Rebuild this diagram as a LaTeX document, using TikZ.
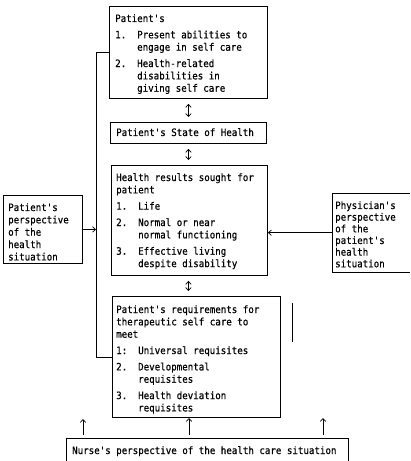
\documentclass[tikz,border=0pt]{standalone}
\usepackage{fontspec}
\setmainfont{DejaVu Sans Mono}[FakeStretch=0.9, FakeBold=0.6, Ligatures=TeXOff]
\usetikzlibrary{arrows.meta,calc}
\newcommand\numb[1]{\makebox[22bp][l]{#1}}
\newcommand\hang{\hspace*{22bp}}
\begin{document}
\begin{tikzpicture}[x=1bp,y=-1bp,
  font=\fontsize{10.2}{12.4}\selectfont,
  box/.style={draw, line width=0.9pt, inner sep=0, anchor=north west},
  openbox/.style={inner sep=0, anchor=north west},
  txt/.style={anchor=base west, inner sep=0},
  conn/.style={line width=0.7pt},
  arr/.style={conn, -{Straight Barb[length=3pt,width=5.5pt]}},
  darr/.style={conn, {Straight Barb[length=3pt,width=5.5pt]}-{Straight Barb[length=3pt,width=5.5pt]}, shorten >=5pt, shorten <=5pt}]
\useasboundingbox (0,0) rectangle (410,461);

% boxes
\node[box, minimum width=158bp, minimum height=92bp] (b1) at (109,6) {};
\node[box, minimum width=156bp, minimum height=21bp] (b2) at (110,122) {};
\node[box, minimum width=156bp, minimum height=110bp] (b3) at (111,165) {};
\node[box, minimum width=168bp, minimum height=121bp] (b4) at (112,296) {};
\node[box, minimum width=79bp, minimum height=68bp] (lb) at (3,195) {};
\node[openbox, minimum width=78bp, minimum height=79bp] (rb) at (332,193) {};
\draw[line width=0.9pt] (rb.north east) -- (rb.north west) -- (rb.south west) -- (rb.south east);
\node[openbox, minimum width=282bp, minimum height=23bp] (nb) at (66,438) {};
\draw[line width=0.9pt] (nb.south west) -- (nb.north west) -- (nb.north east) -- (nb.south east);

% texts
\node[txt] (t1) at (115,22) {\begin{tabular}[t]{@{}l@{}}
Patient's\\[4pt]
\numb{1.}Present abilities to\\
\hang engage in self care\\[4pt]
\numb{2.}Health-related\\
\hang disabilities in\\
\hang giving self care
\end{tabular}};
\node[txt] (t2) at (116,136) {Patient's State of Health};
\node[txt] (t3) at (116,181) {\begin{tabular}[t]{@{}l@{}}
Health results sought for\\
patient\\[4pt]
\numb{1.}Life\\[4pt]
\numb{2.}Normal or near\\
\hang normal functioning\\[4pt]
\numb{3.}Effective living\\
\hang despite disability
\end{tabular}};
\node[txt] (t4) at (116,313) {\begin{tabular}[t]{@{}l@{}}
Patient's requirements for\\
therapeutic self care to\\
meet\\[4pt]
\numb{1:}Universal requisites\\[4pt]
\numb{2.}Developmental\\
\hang requisites\\[4pt]
\numb{3.}Health deviation\\
\hang requisites
\end{tabular}};
\node[txt] (tl) at (8,211) {\begin{tabular}[t]{@{}l@{}}
Patient's\\
perspective\\
of the\\
health\\
situation
\end{tabular}};
\node[txt] (tr) at (335,209) {\fontsize{10.2}{11.7}\selectfont\begin{tabular}[t]{@{}l@{}}
Physician's\\
perspective\\
of the\\
patient's\\
health\\
situation
\end{tabular}};
\node[txt] (tn) at (72,454) {Nurse's perspective of the health care situation};

% connectors
\coordinate (bk) at (96,0);
\draw[darr] (b1.south) -- (b1.south |- b2.north);
\draw[darr] (b2.south) -- (b2.south |- b3.north);
\draw[darr] (b3.south -| b2.south) -- (b4.north -| b2.south);
\draw[conn] (b1.west) -- (b1.west -| bk) -- (b4.west -| bk) -- (b4.west);
\draw[arr] (lb.east) -- (lb.east -| bk);
\draw[arr] (rb.west) -- (rb.west -| b3.east);

\coordinate (a1) at (83,419);
\coordinate (a2) at (189,418);
\coordinate (a3) at (323,418);
\draw[arr, shorten <=3pt] (nb.north -| a1) -- (a1);
\draw[arr, shorten <=3pt] (nb.north -| a2) -- (a2);
\draw[arr, shorten <=3pt] (nb.north -| a3) -- (a3);

\draw[conn] (292,303) -- (292,342);
\end{tikzpicture}
\end{document}
